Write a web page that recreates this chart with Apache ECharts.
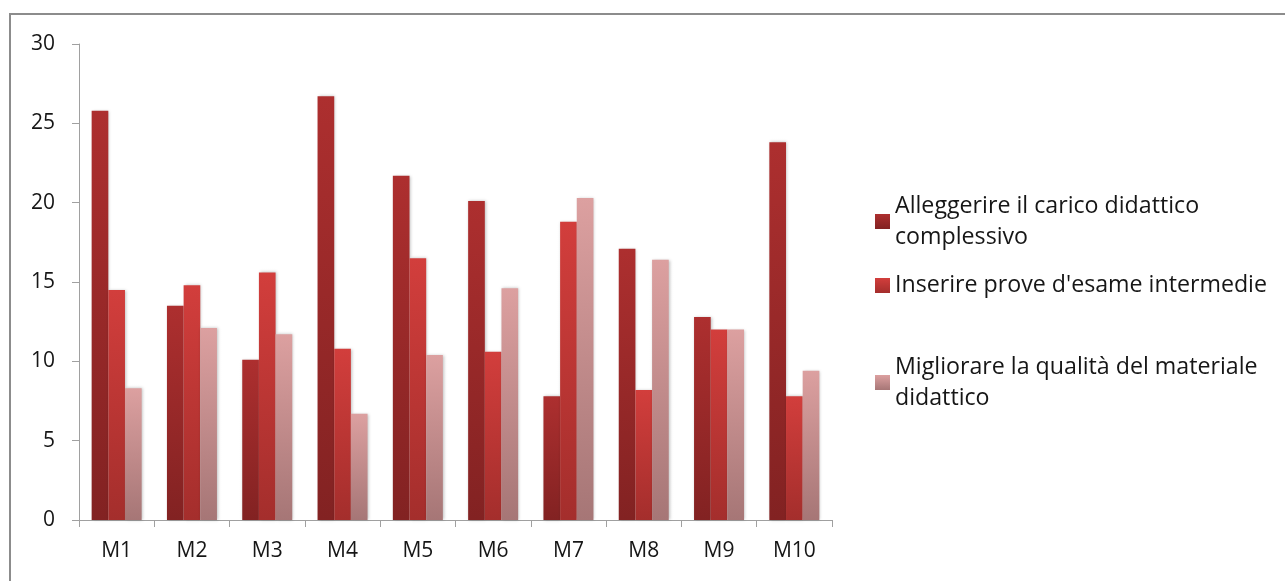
<!DOCTYPE html>
<html>
<head>
<meta charset="utf-8">
<script src="https://cdn.jsdelivr.net/npm/echarts@6/dist/echarts.min.js"></script>
<style>
  html, body { margin: 0; padding: 0; background: #fff; overflow: hidden; }
  #main { width: 1285px; height: 581px; }
</style>
</head>
<body>
<div id="main"></div>
<script>
const categories = ['M1', 'M2', 'M3', 'M4', 'M5', 'M6', 'M7', 'M8', 'M9', 'M10'];
const seriesNames = [
  'Alleggerire il carico didattico\ncomplessivo',
  "Inserire prove d'esame intermedie",
  'Migliorare la qualità del materiale\ndidattico'
];
const alleggerire = [25.8, 13.5, 10.1, 26.7, 21.7, 20.1, 7.8, 17.1, 12.8, 23.8];
const inserire = [14.5, 14.8, 15.6, 10.8, 16.5, 10.6, 18.8, 8.2, 12.0, 7.8];
const migliorare = [8.3, 12.1, 11.7, 6.7, 10.4, 14.6, 20.3, 16.4, 12.0, 9.4];
const yTicks = [0, 5, 10, 15, 20, 25, 30];

const chart = echarts.init(document.getElementById('main'), null, { renderer: 'canvas' });

function grad(top, bottom) {
  return new echarts.graphic.LinearGradient(0, 0, 0, 1, [
    { offset: 0, color: top },
    { offset: 1, color: bottom }
  ]);
}
const colors = [
  grad('#ad2f2f', '#822222'),
  grad('#d23e3c', '#a42e2c'),
  grad('#dca0a0', '#a67676')
];
const values = [alleggerire, inserire, migliorare];
const FONT = '"Open Sans"';
const TEXT = '#161616';

function legendFor(i, top, twoLine) {
  return {
    data: [seriesNames[i]],
    orient: 'vertical',
    left: 875,
    top: top,
    padding: 0,
    icon: 'rect',
    itemWidth: 15,
    itemHeight: 15,
    itemGap: 0,
    selectedMode: false,
    textStyle: {
      fontFamily: FONT,
      fontSize: 23.2,
      color: TEXT,
      lineHeight: 31,
      padding: twoLine ? [31, 0, 0, 0] : 0
    }
  };
}

chart.setOption({
  animation: false,
  backgroundColor: '#fff',
  graphic: [{
    type: 'rect',
    shape: { x: 10, y: 14, width: 1400, height: 700 },
    style: { fill: 'none', stroke: '#8c8c8c', lineWidth: 2 },
    silent: true
  }],
  legend: [
    legendFor(0, 175, true),
    legendFor(1, 270, false),
    legendFor(2, 336, true)
  ],
  grid: { left: 79, right: 453, top: 44, bottom: 61, containLabel: false },
  xAxis: {
    type: 'category',
    data: categories,
    axisLine: { lineStyle: { color: '#a0a0a0', width: 1 } },
    axisTick: { show: true, length: 7, lineStyle: { color: '#a0a0a0' } },
    axisLabel: { color: TEXT, fontFamily: FONT, fontSize: 21, margin: 21 }
  },
  yAxis: {
    type: 'value',
    min: 0,
    max: 30,
    interval: 5,
    axisLine: { show: true, lineStyle: { color: '#a0a0a0', width: 1 } },
    axisTick: { show: true, length: 7, lineStyle: { color: '#a0a0a0' } },
    splitLine: { show: false },
    axisLabel: {
      color: TEXT, fontFamily: FONT, fontSize: 21, margin: 24,
      formatter: function (v) { return yTicks.indexOf(v) >= 0 ? String(v) : ''; }
    }
  },
  series: values.map(function (arr, i) {
    return {
      name: seriesNames[i],
      type: 'bar',
      data: arr,
      barGap: '0%',
      barCategoryGap: '33.6%',
      itemStyle: {
        color: colors[i],
        shadowBlur: 3,
        shadowColor: 'rgba(0,0,0,0.25)',
        shadowOffsetX: 1,
        shadowOffsetY: 0
      }
    };
  })
});
</script>
</body>
</html>
